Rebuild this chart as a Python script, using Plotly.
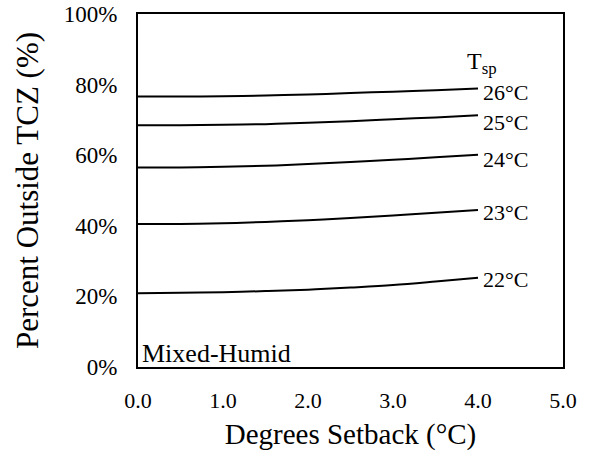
import plotly.graph_objects as go

setback = [0.0, 0.5, 1.0, 1.5, 2.0, 2.5, 3.0, 3.5, 4.0]
tsp_labels = ["22°C", "23°C", "24°C", "25°C", "26°C"]
pct_22 = [20.9, 21.0, 21.2, 21.5, 21.9, 22.5, 23.2, 24.2, 25.3]
pct_23 = [40.5, 40.5, 40.7, 41.1, 41.6, 42.2, 42.9, 43.7, 44.5]
pct_24 = [56.5, 56.5, 56.7, 57.0, 57.5, 58.1, 58.7, 59.4, 60.1]
pct_25 = [68.5, 68.5, 68.6, 68.8, 69.2, 69.6, 70.2, 70.7, 71.3]
pct_26 = [76.6, 76.6, 76.7, 76.9, 77.2, 77.6, 78.0, 78.4, 78.9]
series = [pct_22, pct_23, pct_24, pct_25, pct_26]
label_shift = [-2, -3, -5, -7, -4]

x_ticks = [0, 1, 2, 3, 4, 5]
x_tick_text = ["0.0", "1.0", "2.0", "3.0", "4.0", "5.0"]
y_ticks = [0, 20, 40, 60, 80, 100]
y_tick_text = ["0%", "20%", "40%", "60%", "80%", "100%"]

FONT = "Liberation Serif"

fig = go.Figure()
for name, vals in zip(tsp_labels, series):
    fig.add_trace(go.Scatter(x=setback, y=vals, mode="lines", name=name,
                             line=dict(color="black", width=2, shape="spline"),
                             showlegend=False))

annotations = []
for name, vals, ys in zip(tsp_labels, series, label_shift):
    annotations.append(dict(x=setback[-1], y=vals[-1], text=name, showarrow=False,
                            xanchor="left", yanchor="middle", xshift=3, yshift=ys,
                            font=dict(family=FONT, size=22, color="black")))
annotations.append(dict(x=setback[-1], y=pct_26[-1], text="T<sub>sp</sub>", showarrow=False,
                        xanchor="left", yanchor="middle", xshift=-13, yshift=25,
                        font=dict(family=FONT, size=24, color="black")))
annotations.append(dict(x=0, y=0, xref="paper", yref="paper", text="Mixed-Humid",
                        showarrow=False, xanchor="left", yanchor="middle", xshift=2, yshift=14,
                        font=dict(family=FONT, size=26, color="black")))

fig.update_layout(
    width=591, height=460,
    margin=dict(l=138, r=28, t=14, b=93),
    paper_bgcolor="white", plot_bgcolor="white",
    font=dict(family=FONT, color="black"),
    annotations=annotations,
    xaxis=dict(range=[0, 5], tickvals=x_ticks, ticktext=x_tick_text,
               showgrid=False, zeroline=False, showline=True, linecolor="black",
               linewidth=2, mirror=True, ticks="", ticklen=0, automargin=False,
               ticklabelstandoff=13,
               tickfont=dict(family=FONT, size=22, color="black"),
               title=dict(text="Degrees Setback (°C)", standoff=11,
                          font=dict(family=FONT, size=29, color="black"))),
    yaxis=dict(range=[0, 100], tickvals=y_ticks, ticktext=y_tick_text,
               showgrid=False, zeroline=False, showline=True, linecolor="black",
               linewidth=2, mirror=True, ticks="", ticklen=0, automargin=False,
               ticklabelstandoff=14,
               tickfont=dict(family=FONT, size=23, color="black"),
               title=dict(text="Percent Outside TCZ (%)", standoff=16,
                          font=dict(family=FONT, size=31, color="black"))),
)

fig.write_html("out.html")
